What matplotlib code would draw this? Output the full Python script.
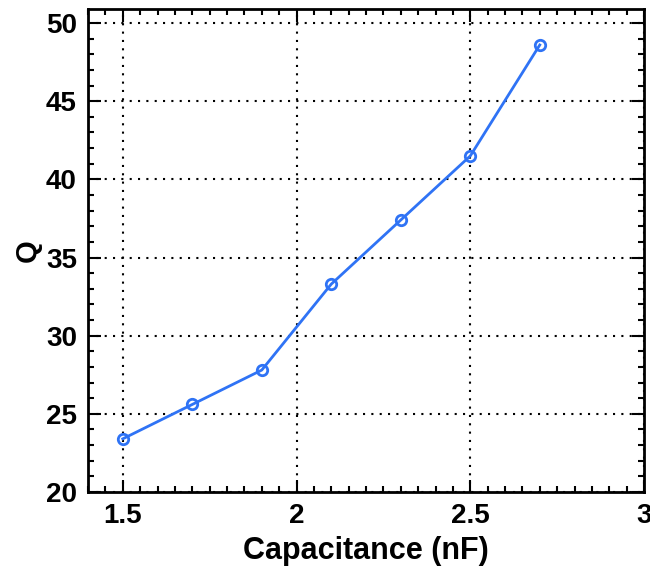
import matplotlib
matplotlib.use("Agg")
import matplotlib.pyplot as plt
from matplotlib.ticker import MultipleLocator

plt.rcParams['font.family'] = ['Liberation Sans', 'DejaVu Sans']
plt.rcParams['font.weight'] = 'bold'

capacitance = [1.5, 1.7, 1.9, 2.1, 2.3, 2.5, 2.7]
q_values = [23.4, 25.6, 27.8, 33.3, 37.4, 41.5, 48.6]
x_ticks = [1.5, 2.0, 2.5, 3.0]
x_tick_labels = ['1.5', '2', '2.5', '3']
y_ticks = [20, 25, 30, 35, 40, 45, 50]

fig = plt.figure(figsize=(6.5, 5.67), dpi=100)
ax = fig.add_axes([0.1354, 0.1323, 0.8554, 0.8518])

ax.plot(capacitance, q_values, color='#2f73f5', linewidth=2.0, marker='o',
        markersize=7.5, markerfacecolor='none', markeredgewidth=2.0, zorder=3)

ax.set_xlim(1.4, 3.0)
ax.set_ylim(20, 50.9)
ax.set_xticks(x_ticks)
ax.set_xticklabels(x_tick_labels)
ax.set_yticks(y_ticks)
ax.xaxis.set_minor_locator(MultipleLocator(0.05))
ax.yaxis.set_minor_locator(MultipleLocator(1))

ax.tick_params(which='both', direction='in', top=True, right=True, width=1.5)
ax.tick_params(which='major', length=9, labelsize=20, pad=8)
ax.tick_params(which='minor', length=4.5)
for lab in ax.get_xticklabels() + ax.get_yticklabels():
    lab.set_fontweight('bold')

for s in ax.spines.values():
    s.set_linewidth(2.0)

ax.grid(True, which='major', linestyle=(0, (1, 3)), color='black', linewidth=1.5)

ax.set_xlabel('Capacitance (nF)', fontsize=22, fontweight='bold', labelpad=5)
ax.set_ylabel('Q', fontsize=21, fontweight='bold', labelpad=3)

fig.savefig('out.png', dpi=100)
